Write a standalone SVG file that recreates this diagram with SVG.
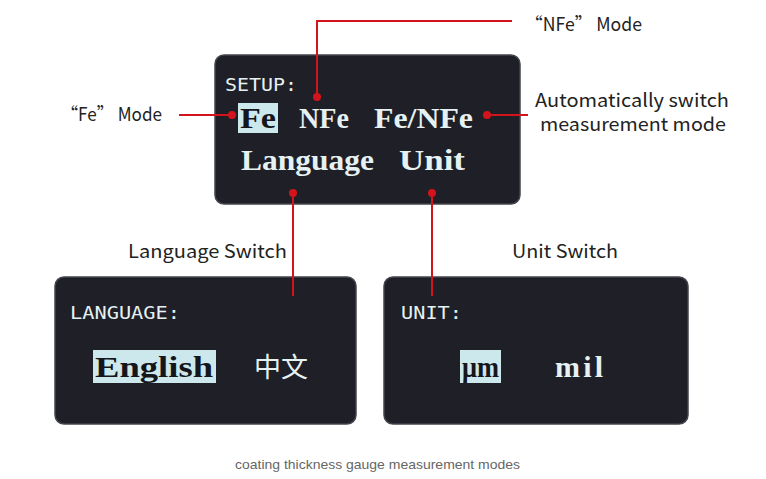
<svg xmlns="http://www.w3.org/2000/svg" width="766" height="479" viewBox="0 0 766 479">
<style>
.panel{fill:#1e1f27;stroke:#44454c;stroke-width:1.5}
.hl{fill:#cde8ec}
.big{font-family:"Liberation Serif","DejaVu Serif",serif;font-weight:bold;font-size:30px;fill:#e6f1f2}
.dark{fill:#15161c}
.small{font-family:"DejaVu Sans Mono","Liberation Mono",monospace;font-size:17px;fill:#e6f1f2}
.lbl{font-family:"Noto Sans CJK SC","Noto Sans",sans-serif;font-size:18.5px;fill:#222}
.cap{font-family:"Liberation Sans",Arial,sans-serif;font-size:13.5px;fill:#666}
.wire{fill:none;stroke:#d3141c;stroke-width:2}
.dot{fill:#d3141c}
</style>
<rect width="766" height="479" fill="#fff"/>
<g id="setup">
<rect class="panel" x="215" y="55" width="305" height="149" rx="9"/>
<text class="small" x="225" y="91" textLength="72" lengthAdjust="spacingAndGlyphs">SETUP:</text>
<rect class="hl" x="238" y="103" width="40" height="30"/>
<text class="big dark" x="240" y="128" textLength="36" lengthAdjust="spacingAndGlyphs">Fe</text>
<text class="big" x="299" y="128" textLength="50" lengthAdjust="spacingAndGlyphs">NFe</text>
<text class="big" x="374" y="128" textLength="99" lengthAdjust="spacingAndGlyphs">Fe/NFe</text>
<text class="big" x="241" y="170" textLength="133" lengthAdjust="spacingAndGlyphs">Language</text>
<text class="big" x="399" y="170" textLength="66" lengthAdjust="spacingAndGlyphs">Unit</text>
</g>
<g id="language">
<rect class="panel" x="55" y="277" width="301" height="147" rx="9"/>
<text class="small" x="70" y="319" textLength="110" lengthAdjust="spacingAndGlyphs">LANGUAGE:</text>
<rect class="hl" x="93" y="350" width="123" height="33"/>
<text class="big dark" x="95" y="377" textLength="118" lengthAdjust="spacingAndGlyphs">English</text>
<text x="254" y="377" font-family="Noto Sans CJK SC,sans-serif" font-size="27" fill="#e6f1f2">中文</text>
</g>
<g id="unit">
<rect class="panel" x="384" y="277" width="304" height="147" rx="9"/>
<text class="small" x="401" y="319" textLength="61" lengthAdjust="spacingAndGlyphs">UNIT:</text>
<rect class="hl" x="460" y="350" width="41" height="33"/>
<text class="big dark" x="462" y="377" textLength="37" lengthAdjust="spacingAndGlyphs">μm</text>
<text class="big" x="555" y="377" textLength="48" lengthAdjust="spacing">mil</text>
</g>
<g id="labels">
<text class="lbl" x="525" y="31" textLength="117" lengthAdjust="spacingAndGlyphs">“NFe” Mode</text>
<text class="lbl" x="61" y="121" textLength="101" lengthAdjust="spacingAndGlyphs">“Fe” Mode</text>
<text class="lbl" x="535" y="107" textLength="194" lengthAdjust="spacingAndGlyphs">Automatically switch</text>
<text class="lbl" x="540" y="131" textLength="186" lengthAdjust="spacingAndGlyphs">measurement mode</text>
<text class="lbl" x="128" y="258" textLength="159" lengthAdjust="spacingAndGlyphs">Language Switch</text>
<text class="lbl" x="512" y="258" textLength="106" lengthAdjust="spacingAndGlyphs">Unit Switch</text>
</g>
<g id="connectors">
<polyline class="wire" points="512,21 317,21 317,97"/>
<circle class="dot" cx="317" cy="97" r="4"/>
<line class="wire" x1="179" y1="115" x2="232" y2="115"/>
<circle class="dot" cx="232" cy="115" r="4"/>
<line class="wire" x1="487" y1="115" x2="528" y2="115"/>
<circle class="dot" cx="487" cy="115" r="4"/>
<line class="wire" x1="293" y1="193" x2="293" y2="296"/>
<circle class="dot" cx="293" cy="193" r="4"/>
<line class="wire" x1="432" y1="193" x2="432" y2="296"/>
<circle class="dot" cx="432" cy="193" r="4"/>
</g>
<text class="cap" x="235" y="469" textLength="285" lengthAdjust="spacingAndGlyphs">coating thickness gauge measurement modes</text>
</svg>
